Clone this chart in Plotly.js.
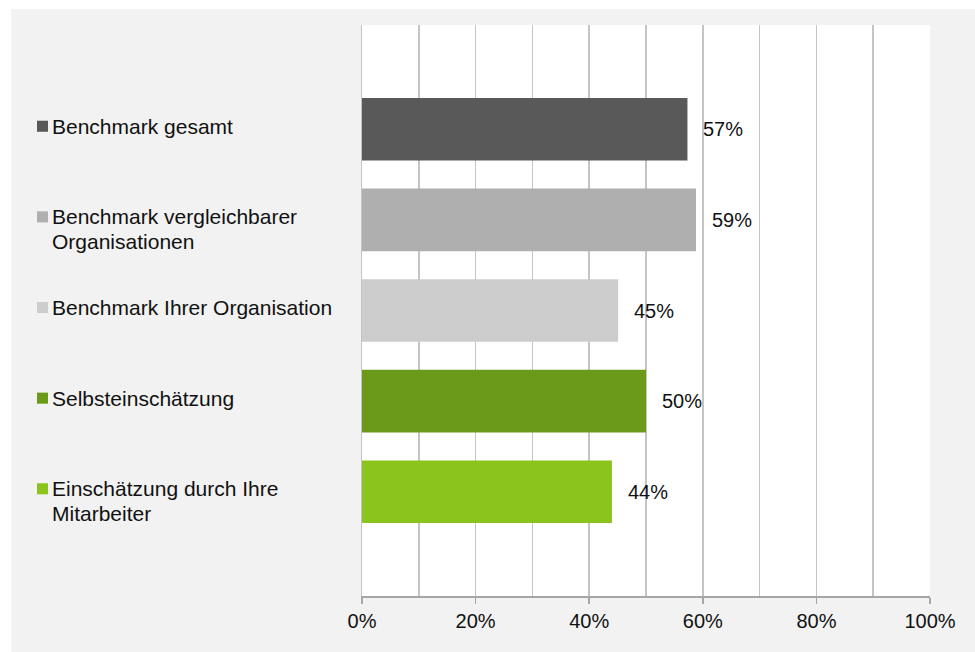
<!DOCTYPE html>
<html>
<head>
<meta charset="utf-8">
<script src="https://cdn.plot.ly/plotly-3.0.1.min.js"></script>
<style>
  html, body { margin: 0; padding: 0; background: #ffffff; }
  #chart { position: absolute; left: 11px; top: 9px; width: 964px; height: 643px; }
</style>
</head>
<body>
<div id="chart"></div>
<script>
// ---- data ----
const categories = [
  "Benchmark gesamt",
  "Benchmark vergleichbarer<br>Organisationen",
  "Benchmark Ihrer Organisation",
  "Selbsteinschätzung",
  "Einschätzung durch Ihre<br>Mitarbeiter"
];
const values = [0.573, 0.588, 0.451, 0.50, 0.44];
const valueLabels = ["57%", "59%", "45%", "50%", "44%"];
const barColors = ["#595959", "#afafaf", "#cccccc", "#6b9a1b", "#8cc41e"];
const tickVals = [0, 0.2, 0.4, 0.6, 0.8, 1.0];
const tickText = ["0%", "20%", "40%", "60%", "80%", "100%"];

// ---- build ----
const font = { family: "'Liberation Sans', Arial, sans-serif", size: 20, color: "#111111" };
const labelFont = { family: "'Liberation Sans', Arial, sans-serif", size: 21, color: "#111111" };
const trace = {
  type: "bar",
  orientation: "h",
  y: categories,
  x: values,
  width: 0.69,
  marker: { color: barColors },
  hoverinfo: "none"
};

const annotations = [];
const shapes = [];
const labelX = -0.5493;   // paper coords, left of plot area
categories.forEach((c, i) => {
  const lines = c.split("<br>");
  lines.forEach((ln, k) => {
    annotations.push({
      xref: "paper", yref: "y",
      x: labelX, y: i,
      xanchor: "left", yanchor: "middle",
      yshift: 3 - 25 * k,
      text: ln, showarrow: false, font: labelFont
    });
  });
  shapes.push({
    type: "rect", xref: "paper", yref: "y",
    x0: -0.5722, x1: -0.5528,
    y0: i - 0.094, y1: i + 0.028,
    fillcolor: barColors[i], line: { width: 0 }
  });
  annotations.push({
    xref: "x", yref: "y",
    x: values[i], y: i,
    xanchor: "left", yanchor: "middle",
    xshift: 14,
    text: valueLabels[i], showarrow: false, font: font
  });
});

const layout = {
  width: 964, height: 643,
  margin: { l: 351, r: 45, t: 16, b: 56 },
  paper_bgcolor: "#f2f2f2",
  plot_bgcolor: "#ffffff",
  showlegend: false,
  font: font,
  xaxis: {
    range: [0, 1],
    tickvals: tickVals,
    ticktext: tickText,
    showgrid: true, gridcolor: "#c4c4c4", gridwidth: 1.5,
    minor: { dtick: 0.1, showgrid: true, gridcolor: "#c4c4c4", gridwidth: 1.5, ticks: "" },
    zeroline: false,
    showline: true, linecolor: "#a6a6a6", linewidth: 1.5,
    ticks: "outside", ticklen: 6, tickcolor: "#a6a6a6", tickwidth: 1.5,
    tickfont: font,
    fixedrange: true
  },
  yaxis: {
    type: "category",
    range: [5.15, -1.15],
    showticklabels: false,
    showgrid: false, zeroline: false,
    showline: true, linecolor: "#c4c4c4", linewidth: 1.5,
    ticks: "",
    fixedrange: true
  },
  annotations: annotations,
  shapes: shapes
};

Plotly.newPlot("chart", [trace], layout, { staticPlot: true, displayModeBar: false });
</script>
</body>
</html>
